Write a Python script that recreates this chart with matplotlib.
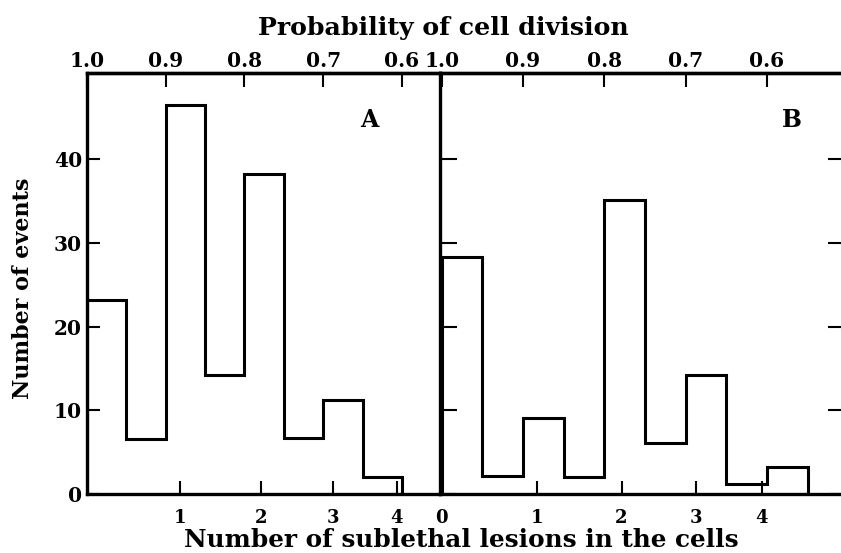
import matplotlib
matplotlib.use("Agg")
import matplotlib.pyplot as plt
import numpy as np

# histogram data, binned in probability of cell division (bins 0.05 wide)
edges_a = [1.0, 0.95, 0.90, 0.85, 0.80, 0.75, 0.70, 0.65, 0.60]
counts_a = [23.2, 6.6, 46.4, 14.2, 38.2, 6.7, 11.3, 2.1]

edges_b = [1.0, 0.95, 0.90, 0.85, 0.80, 0.75, 0.70, 0.65, 0.60, 0.55]
counts_b = [28.3, 2.2, 9.1, 2.1, 35.1, 6.1, 14.2, 1.2, 3.2]

prob_ticks = [1.0, 0.9, 0.8, 0.7, 0.6]
lesions_a = [1, 2, 3, 4]
lesions_b = [0, 1, 2, 3, 4]
count_ticks = [0, 10, 20, 30, 40]

# probability of division vs number of sublethal lesions: p = exp(-n/8)
def lesion_to_prob(n):
    return np.exp(-np.asarray(n, dtype=float) / 8.0)

plt.rcParams['font.family'] = ['DejaVu Serif']
plt.rcParams['font.weight'] = 'bold'

W, H = 841, 553
fig = plt.figure(figsize=(W / 100, H / 100), dpi=100)

def box(x0, y0, x1, y1):
    return [x0 / W, 1 - y1 / H, (x1 - x0) / W, (y1 - y0) / H]

axA = fig.add_axes(box(87, 73, 440, 494.3))
axB = fig.add_axes(box(440, 73, 845, 494.3))

lw = 2.2
for ax, edges, counts, lesions, xlim, letter, lx in [
        (axA, edges_a, counts_a, lesions_a, (1.0, 0.5517), 'A', 0.80),
        (axB, edges_b, counts_b, lesions_b, (1.002, 0.504), 'B', 0.87)]:
    ax.stairs(counts[::-1], edges[::-1], baseline=0, fill=False,
              color='black', linewidth=lw)
    ax.set_xlim(*xlim)
    ax.set_ylim(0, 50.26)
    for s in ax.spines.values():
        s.set_linewidth(2.4)

    # bottom: lesion numbers
    ax.set_xticks(lesion_to_prob(lesions))
    ax.set_xticklabels([str(n) for n in lesions])
    ax.tick_params(axis='x', direction='in', length=9.5, width=1.5,
                   labelsize=13, pad=10.5)

    # top: probability of cell division
    top = ax.secondary_xaxis('top')
    top.set_xticks(prob_ticks)
    top.set_xticklabels(['%.1f' % p for p in prob_ticks])
    top.tick_params(direction='in', length=10, width=1.5, labelsize=14.5,
                    pad=1.5)
    top.spines['top'].set_linewidth(2.4)

    ax.set_yticks(count_ticks)
    ax.text(lx, 0.888, letter, transform=ax.transAxes, fontsize=17,
            ha='center', va='center')

axA.spines['right'].set_visible(False)
axA.tick_params(axis='y', direction='in', length=9.5, width=1.5,
                labelsize=14.5, pad=3.5)

axB.spines['right'].set_visible(False)
axB.tick_params(axis='y', direction='in', length=12, width=1.5,
                left=True, right=True, labelleft=False)

fig.text(0.527, 1 - 35 / H, 'Probability of cell division', fontsize=18.2,
         ha='center', va='baseline')
fig.text(0.548, 1 - 547 / H, 'Number of sublethal lesions in the cells',
         fontsize=17.8, ha='center', va='baseline')
fig.text(0.027, 0.478, 'Number of events', fontsize=16, rotation=90,
         ha='center', va='center')

fig.savefig('out.png', dpi=100)
